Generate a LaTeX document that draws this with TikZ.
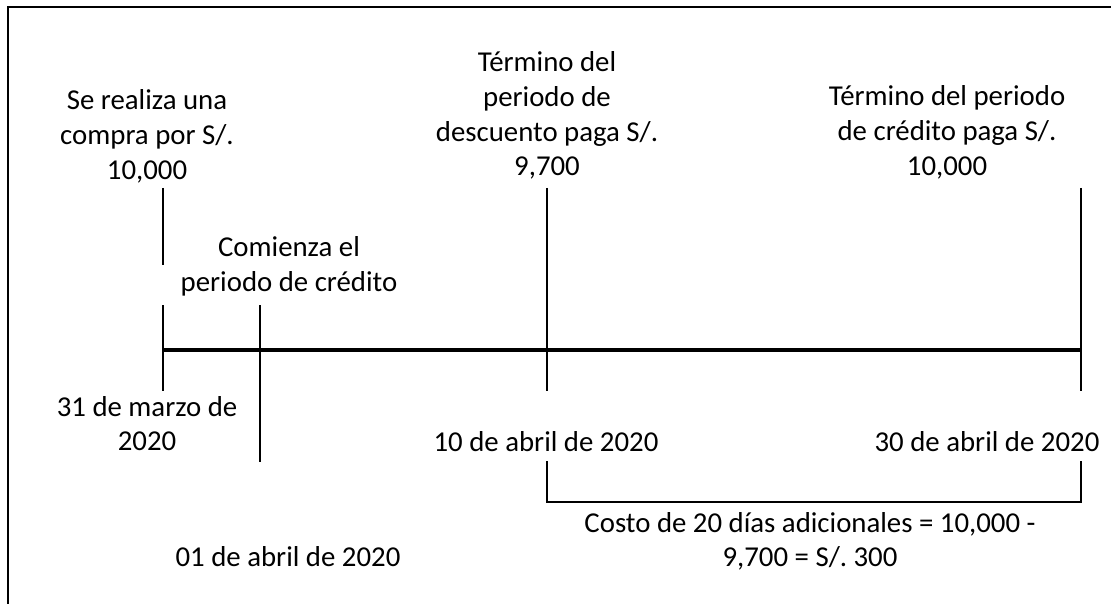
\documentclass[tikz,border=0pt]{standalone}
\usepackage{fontspec}
\setmainfont{Carlito}
\frenchspacing
\begin{document}
\begin{tikzpicture}[x=1pt,y=-1pt,
  lbl/.style={font=\fontsize{28.8}{34.6}\selectfont, align=center, inner sep=0pt, anchor=base},
  frame/.style={line width=2.7pt},
  tick/.style={line width=2.7pt},
  axis/.style={line width=3.2pt},
  brk/.style={line width=2.7pt}]
\useasboundingbox (0,0) rectangle (1111,604);
% frame
\coordinate (fTR) at (1115,7);
\coordinate (fTL) at (8,7);
\coordinate (fBL) at (8,610);
\draw[frame] (fTR) -- (fTL) -- (fBL);
% timeline
\coordinate (tA) at (163,350);
\coordinate (tD) at (1081,350);
\draw[axis] (tA) -- (tD);
% ticks
\coordinate (a1) at (163,188); \coordinate (a2) at (163,265);
\coordinate (a3) at (163,305); \coordinate (a4) at (163,391);
\draw[tick] (a1) -- (a2);
\draw[tick] (a3) -- (a4);
\coordinate (b1) at (260,305); \coordinate (b2) at (260,462);
\draw[tick] (b1) -- (b2);
\coordinate (c1) at (547,188); \coordinate (c2) at (547,391);
\draw[tick] (c1) -- (c2);
\coordinate (d1) at (1081,188); \coordinate (d2) at (1081,391);
\draw[tick] (d1) -- (d2);
% bracket
\coordinate (k1) at (547,461); \coordinate (k2) at (547,502);
\coordinate (k3) at (1081,502); \coordinate (k4) at (1081,461);
\draw[brk] (k1) -- (k2) -- (k3) -- (k4);
% labels (anchor = baseline of the last line)
\node[lbl] (compra) at (147,179.2) {Se realiza una\\compra por S/.\\10,000};
\node[lbl] (desc) at (547,175.8) {Término del\\periodo de\\descuento paga S/.\\9,700};
\node[lbl] (cred) at (947,175.2) {Término del periodo\\de crédito paga S/.\\10,000};
\node[lbl] (comienza) at (289,291.6) {Comienza el\\periodo de crédito};
\node[lbl] (d31) at (147,450.6) {31 de marzo de\\2020};
\node[lbl] (d10) at (546,451) {10 de abril de 2020};
\node[lbl] (d30) at (987,451) {30 de abril de 2020};
\node[lbl] (d01) at (288,566) {01 de abril de 2020};
\node[lbl] (costo) at (810,566.6) {Costo de 20 días adicionales = 10,000 -\\9,700 = S/. 300};
\end{tikzpicture}
\end{document}
